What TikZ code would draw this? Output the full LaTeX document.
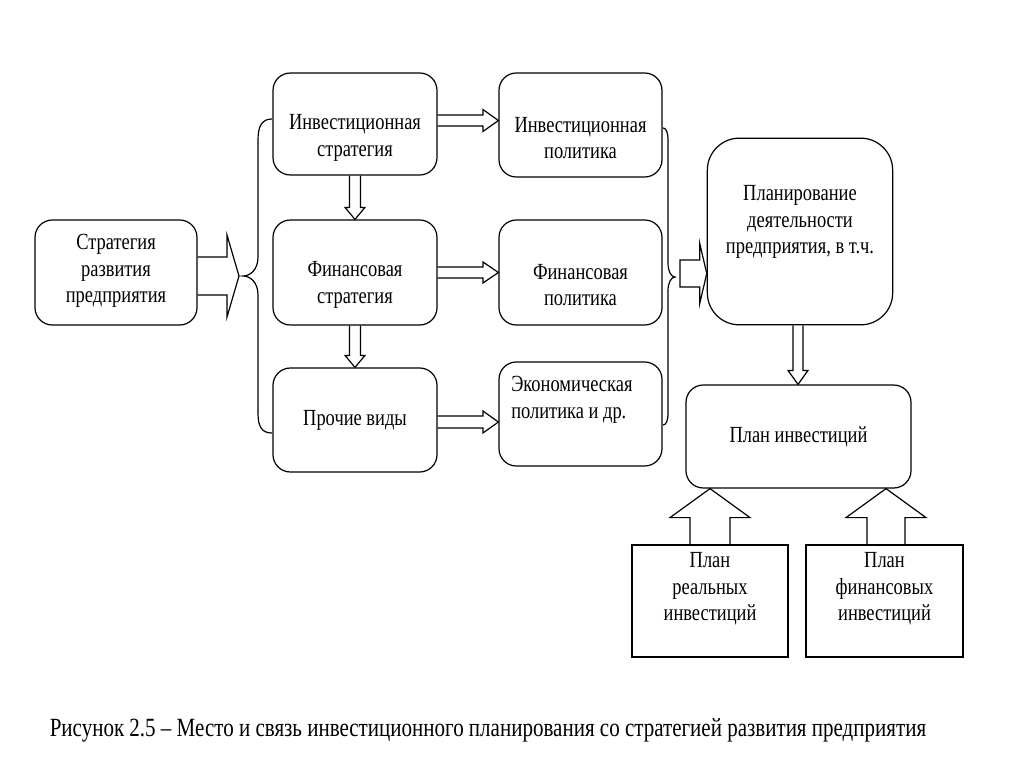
\documentclass[tikz,border=0pt]{standalone}
\usepackage{fontspec}
\setmainfont[FakeStretch=0.8]{Liberation Serif}
\usetikzlibrary{calc}
\tikzset{
  box/.style={draw, line width=0.9pt, inner sep=0pt},
  rbox/.style={box, rounded corners=13pt},
  txt/.style={font=\fontsize{17.3}{19.8}\selectfont, align=center, inner sep=0pt},
  barrow/.style={draw, line width=0.9pt, line join=miter},
  bracestyle/.style={draw, line width=0.9pt},
}
% horizontal block arrow (open tail)
\newcommand\harr[5]{\draw[barrow] let \p1=(#1), \p2=(#2) in
  (\x1,\y1+#3) -- (\x2-#5,\y1+#3) -- (\x2-#5,\y1+#4) -- (\x2,\y1) --
  (\x2-#5,\y1-#4) -- (\x2-#5,\y1-#3) -- (\x1,\y1-#3);}
% downward block arrow
\newcommand\darr[5]{\draw[barrow] let \p1=(#1), \p2=(#2) in
  (\x1-#3,\y1) -- (\x1-#3,\y2+#5) -- (\x1-#4,\y2+#5) -- (\x1,\y2) --
  (\x1+#4,\y2+#5) -- (\x1+#3,\y2+#5) -- (\x1+#3,\y1);}
% upward block arrow
\newcommand\uarr[5]{\draw[barrow] let \p1=(#1), \p2=(#2) in
  (\x1-#3,\y1) -- (\x1-#3,\y2-#5) -- (\x1-#4,\y2-#5) -- (\x1,\y2) --
  (\x1+#4,\y2-#5) -- (\x1+#3,\y2-#5) -- (\x1+#3,\y1);}
\begin{document}
\begin{tikzpicture}[x=0.75pt,y=-0.75pt]
\fill[white] (0,0) rectangle (1024,767);
\useasboundingbox (0,0) rectangle (1024,767);

% boxes
\node[rbox, minimum width=121.5pt, minimum height=78.75pt] (a) at (116,272.5) {};
\node[rbox, minimum width=123pt, minimum height=76.5pt] (b1) at (355,124) {};
\node[rbox, minimum width=123pt, minimum height=78.75pt] (b2) at (355,272.5) {};
\node[rbox, minimum width=123pt, minimum height=78pt] (b3) at (355,420) {};
\node[rbox, minimum width=122.25pt, minimum height=78pt] (c1) at (580.5,125) {};
\node[rbox, minimum width=122.25pt, minimum height=78.75pt] (c2) at (580.5,272.5) {};
\node[rbox, minimum width=122.25pt, minimum height=78pt] (c3) at (580.5,414) {};
\node[box, rounded corners=24pt, minimum width=139pt, minimum height=140pt] (d) at (800,231.5) {};
\node[rbox, minimum width=168.75pt, minimum height=77.25pt] (e) at (798.5,436.5) {};
\node[box, minimum width=117pt, minimum height=84pt] (f1) at (710,601) {};
\node[box, minimum width=117.75pt, minimum height=84pt] (f2) at (884.5,601) {};

% texts
\node[txt] (ta) at (116,271) {Стратегия\\развития\\предприятия};
\node[txt] (tb1) at (355,138) {Инвестиционная\\стратегия};
\node[txt] (tb2) at (355,285) {Финансовая\\стратегия};
\node[txt] (tb3) at (355,420) {Прочие виды};
\node[txt] (tc1) at (580.5,138) {Инвестиционная\\политика};
\node[txt] (tc2) at (580.5,285) {Финансовая\\политика};
\node[txt, align=left, anchor=west] (tc3) at (511,400) {Экономическая\\политика и др.};
\node[txt] (td) at (800,222) {Планирование\\деятельности\\предприятия, в т.ч.};
\node[txt] (te) at (798.5,437) {План инвестиций};
\node[txt] (tf1) at (710,589) {План\\реальных\\инвестиций};
\node[txt] (tf2) at (884.5,589) {План\\финансовых\\инвестиций};

% caption
\node[font=\fontsize{19.7}{22}\selectfont, inner sep=0pt] (cap) at (488,730)
  {Рисунок 2.5 -- Место и связь инвестиционного планирования со стратегией развития предприятия};

% left brace
\coordinate (lbtip) at (243,276);
\draw[bracestyle] (272,119) .. controls (262,119) and (258,126) .. (258,140)
  -- (258,257) .. controls (258,270) and (250,276) .. (lbtip)
  .. controls (250,276) and (258,282) .. (258,295)
  -- (258,413) .. controls (258,427) and (262,433) .. (272,433);
% right brace
\coordinate (rbtip) at (675,277);
\draw[bracestyle] (663,128) .. controls (666,128) and (668,132) .. (668,140)
  -- (668,263) .. controls (668,271) and (671,277) .. (rbtip)
  .. controls (671,277) and (668,283) .. (668,291)
  -- (668,413) .. controls (668,421) and (666,425) .. (663,425);

% A -> brace
\coordinate (atip) at (239,276);
\harr{a.east |- 0,276}{atip}{14.25pt}{30.75pt}{9pt}

% B -> C
\harr{b1.east |- 0,120.5}{c1.west |- 0,120.5}{4.1pt}{8.25pt}{11.6pt}
\harr{b2.east |- 0,272.5}{c2.west |- 0,272.5}{4.1pt}{7.9pt}{11.6pt}
\harr{b3.east |- 0,422}{c3.west |- 0,422}{4.5pt}{8.25pt}{11.6pt}

% B vertical
\darr{b1.south}{b2.north}{4.1pt}{7.5pt}{9pt}
\darr{b2.south}{b3.north}{4.1pt}{7.5pt}{9pt}

% brace -> D
\coordinate (dstart) at (680,273.5);
\draw[barrow] let \p1=(dstart), \p2=(d.west |- dstart) in
  (\x1,\y1+10.1pt) -- (\x2-5.25pt,\y1+10.1pt) -- (\x2-5.25pt,\y1+22.5pt) -- (\x2,\y1)
  -- (\x2-5.25pt,\y1-22.5pt) -- (\x2-5.25pt,\y1-10.1pt) -- (\x1,\y1-10.1pt) -- cycle;

% D -> E
\darr{d.south -| 798,0}{e.north -| 798,0}{3.75pt}{7.5pt}{10.5pt}

% F -> E
\uarr{f1.north}{e.south -| f1.north}{15pt}{30pt}{21.75pt}
\uarr{f2.north -| 886,0}{e.south -| 886,0}{14.25pt}{30pt}{21.75pt}
\end{tikzpicture}
\end{document}
